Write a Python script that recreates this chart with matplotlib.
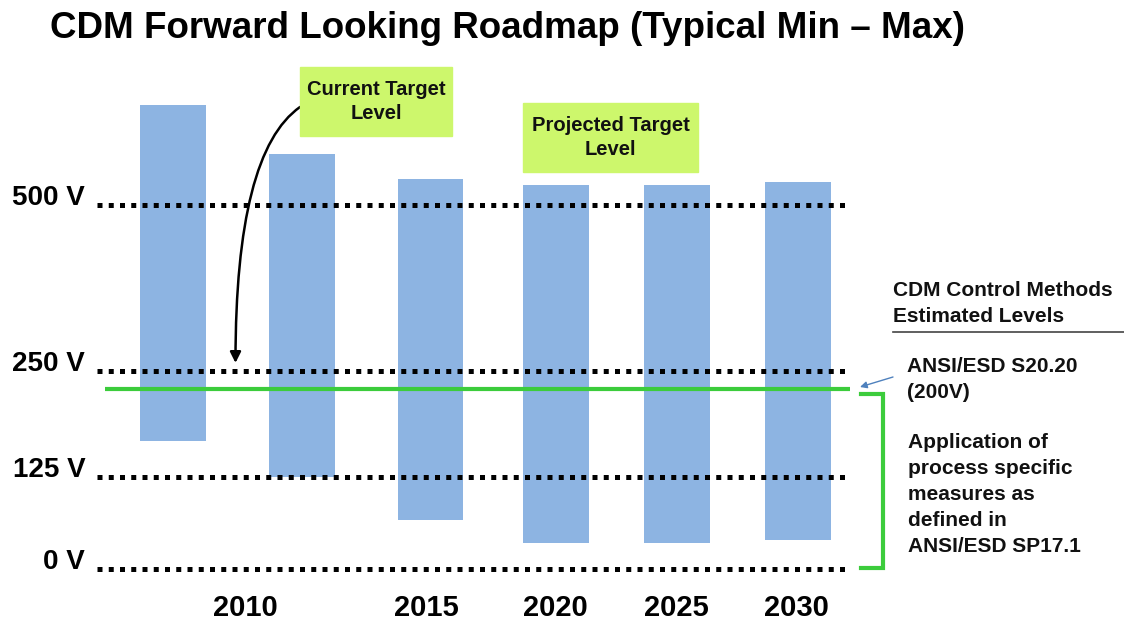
import numpy as np
import matplotlib
matplotlib.use("Agg")
import matplotlib.pyplot as plt
from matplotlib.patches import Rectangle
from matplotlib.lines import Line2D
import matplotlib.transforms as mtransforms

# roadmap data (typical min - max CDM level, volts)
BAR_MAX = [650, 577, 539, 530, 530, 535]
BAR_MIN = [156, 125, 67, 35, 35, 39]
LEVELS = [0, 125, 250, 500]
LEVEL_LABELS = ["0 V", "125 V", "250 V", "500 V"]
YEARS = ["2010", "2015", "2020", "2025", "2030"]
S2020_LEVEL = 200

# layout (slot positions on the x axis)
BAR_POS = [0, 1.03, 2.06, 3.06, 4.03, 5.0]
YEAR_POS = [0.58, 2.03, 3.06, 4.03, 4.99]

# the hand-drawn voltage axis is not linear; knots
V_KNOTS = [-125, 0, 125, 200, 250, 500, 1000]
P_KNOTS = [-92, 0, 92, 180, 198, 364, 696]

W, H = 1124, 623
BAR_COLOR = "#8db4e2"
GREEN = "#3ccc3c"
BOX_GREEN = "#cdf76c"
NARROW = ["Liberation Sans Narrow", "Liberation Sans", "DejaVu Sans"]
SANS = ["Liberation Sans", "DejaVu Sans"]


def fwd(v):
    return np.interp(v, V_KNOTS, P_KNOTS)


def inv(p):
    return np.interp(p, P_KNOTS, V_KNOTS)


def fig_xy(x, y):
    # slide pixel (top-left origin) -> figure fraction
    return x / W, 1 - y / H


fig = plt.figure(figsize=(W / 100, H / 100), dpi=100)
ax = fig.add_axes([97 / W, 54 / H, 748 / W, 509 / H])
ax.set_yscale("function", functions=(fwd, inv))
ax.set_ylim(0, 718)
ax.set_xlim(-0.608, 5.376)

heights = [hi - lo for hi, lo in zip(BAR_MAX, BAR_MIN)]
ax.bar(BAR_POS, heights, bottom=BAR_MIN, width=0.528, color=BAR_COLOR, zorder=2)

for lv in LEVELS:
    ax.axhline(lv, color="black", lw=3.6, linestyle=(0, (1, 1.25)),
               dash_capstyle="butt", clip_on=False, zorder=3)

ax.hlines(S2020_LEVEL, -0.544, 5.416, color=GREEN, lw=3, clip_on=False, zorder=4)

for s in ax.spines.values():
    s.set_visible(False)
ax.set_yticks(LEVELS, labels=LEVEL_LABELS)
ax.set_xticks(YEAR_POS, labels=YEARS)
ax.tick_params(axis="y", length=0, pad=8.5)
ax.tick_params(axis="x", length=0, pad=18)
for lab in ax.get_yticklabels():
    lab.set_fontsize(20)
    lab.set_fontweight("bold")
    lab.set_family(SANS)
    lab.set_verticalalignment("baseline")
for lab in ax.get_xticklabels():
    lab.set_fontsize(21)
    lab.set_fontweight("bold")
    lab.set_family(NARROW)

# title
tx, ty = fig_xy(50, 28)
fig.text(tx, ty, "CDM Forward Looking Roadmap (Typical Min \u2013 Max)",
         fontsize=26.5, fontweight="bold", family=NARROW, va="center", ha="left")

# green call-out boxes
for (x0, y0, x1, y1), txt in [((300, 67, 452, 136), "Current Target\nLevel"),
                               ((523, 103, 698, 172), "Projected Target\nLevel")]:
    fx, fy = fig_xy(x0, y1)
    fig.patches.append(Rectangle((fx, fy), (x1 - x0) / W, (y1 - y0) / H,
                                 transform=fig.transFigure, color=BOX_GREEN, zorder=1))
    cx, cy = fig_xy((x0 + x1) / 2, (y0 + y1) / 2)
    fig.text(cx, cy, txt, fontsize=14.5, fontweight="bold", family=SANS,
             ha="center", va="center", linespacing=1.3, color="#111111")

# curved arrow from the current target box to the 250 V line
ax.annotate("", xy=(0.5, 262), xycoords="data",
            xytext=(300, H - 107), textcoords="figure pixels",
            arrowprops=dict(arrowstyle="-|>", color="black", lw=1.8,
                            mutation_scale=16, shrinkA=0, shrinkB=0,
                            connectionstyle="angle3,angleA=35,angleB=90"),
            annotation_clip=False, zorder=5)

# right-hand notes
right_lines = [(893, 290, "CDM Control Methods"), (893, 316, "Estimated Levels"),
               (907, 366, "ANSI/ESD S20.20"), (907, 392, "(200V)"),
               (908, 443, "Application of"), (908, 469, "process specific"),
               (908, 495, "measures as"), (908, 521, "defined in"),
               (908, 547, "ANSI/ESD SP17.1")]
for x, y, txt in right_lines:
    fx, fy = fig_xy(x, y)
    fig.text(fx, fy, txt, fontsize=15, fontweight="bold",
             family=SANS, ha="left", va="center", color="#111111")

ux0, uy = fig_xy(893, 332)
ux1, _ = fig_xy(1124, 332)
fig.add_artist(Line2D([ux0, ux1], [uy, uy], color="#444444", lw=1.2,
                      transform=fig.transFigure))

# small blue pointer to the green 200 V line
ax.annotate("", xy=(860, H - 387), xycoords="figure pixels",
            xytext=(893, H - 377), textcoords="figure pixels",
            arrowprops=dict(arrowstyle="-|>", color="#4f81bd", lw=1,
                            mutation_scale=10, shrinkA=0, shrinkB=0),
            annotation_clip=False)

# green bracket spanning 0 - 200 V
trans = mtransforms.blended_transform_factory(ax.transAxes, ax.transData)
bx0, bx1 = (861 - 97) / 748, (883 - 97) / 748
ax.plot([bx0, bx1, bx1, bx0], [S2020_LEVEL - 4, S2020_LEVEL - 4, 2, 2],
        color=GREEN, lw=3, transform=trans, clip_on=False,
        solid_joinstyle="miter")

fig.savefig("out.png", dpi=100)
